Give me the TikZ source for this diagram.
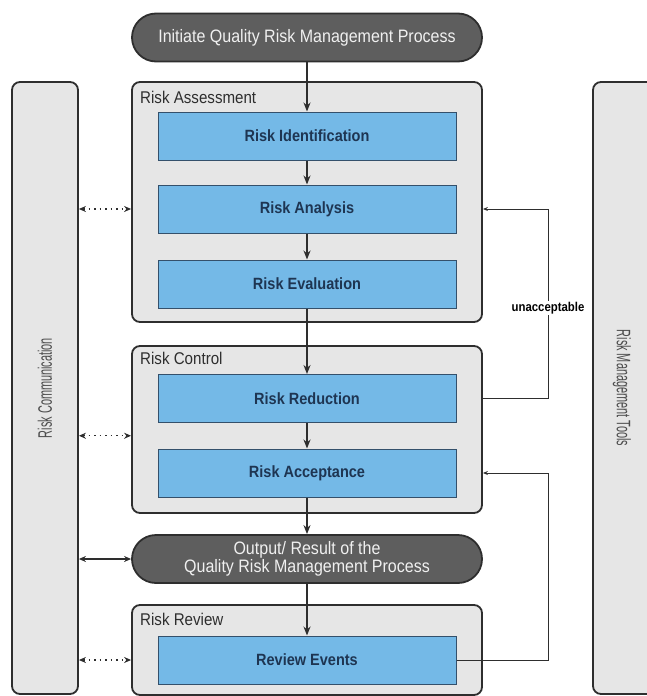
\documentclass[tikz,border=0pt]{standalone}
\usepackage{fontspec}
\setmainfont{Liberation Sans}
\newfontfamily\boxfont[FakeStretch=0.89]{Liberation Sans}
\newfontfamily\sidefont[FakeStretch=0.56]{Liberation Sans}
\usetikzlibrary{arrows.meta,calc}

\definecolor{pillgray}{HTML}{5E5E5E}
\definecolor{panelgray}{HTML}{E6E6E6}
\definecolor{edgegray}{HTML}{2E2E2E}
\definecolor{stepblue}{HTML}{74B9E7}
\definecolor{stepedge}{HTML}{34506B}
\definecolor{stepnavy}{HTML}{1E3552}

\tikzset{
  pill/.style={draw=edgegray, line width=1.8pt, fill=pillgray, rounded corners=24pt,
    minimum width=350pt, minimum height=48pt, text=white!94!black, align=center,
    font=\boxfont\fontsize{18}{16.5}\selectfont},
  panel/.style={draw=edgegray, line width=1.8pt, fill=panelgray, rounded corners=8pt},
  paneltitle/.style={anchor=west, inner sep=0pt, text=edgegray, font=\boxfont\fontsize{17}{18}\selectfont},
  stepbox/.style={draw=stepedge, line width=1pt, fill=stepblue, minimum width=298pt,
    minimum height=48pt, text=stepnavy, font=\boxfont\bfseries\fontsize{16.3}{18}\selectfont},
  sidetext/.style={text=edgegray!85!white, font=\sidefont\fontsize{19.5}{20}\selectfont},
  flow/.style={draw=edgegray, line width=1.8pt, -{Stealth[length=9pt,width=7pt]}},
  talk/.style={draw=edgegray, line width=1.3pt, dash pattern=on 1.5pt off 4pt,
    {Stealth[length=7pt,width=6pt]}-{Stealth[length=7pt,width=6pt]}},
  feedback/.style={draw=edgegray, line width=0.9pt, -{Stealth[length=5pt,width=4pt]}}
}

\begin{document}
\begin{tikzpicture}[x=1pt,y=-1pt]
\useasboundingbox (0,0) rectangle (646,696);

% side columns
\node[panel, minimum width=66pt, minimum height=612pt] (comm) at (45,388) {};
\node[sidetext, rotate=90] at (comm) {Risk Communication};
\node[panel, minimum width=80pt, minimum height=612pt] (tools) at (633,388) {};
\node[sidetext, rotate=-90] at (622,388) {Risk Management Tools};

% the three stages
\node[panel, minimum width=350pt, minimum height=240pt] (assess) at (307,202) {};
\node[paneltitle] at (140,97) {Risk Assessment};
\node[panel, minimum width=350pt, minimum height=167pt] (control) at (307,429.5) {};
\node[paneltitle] at (140,358) {Risk Control};
\node[panel, minimum width=350pt, minimum height=90pt] (review) at (307,650) {};
\node[paneltitle] at (140,619) {Risk Review};

% start and output
\node[pill] (start) at (307,37.5) {Initiate Quality Risk Management Process};
\node[pill] (output) at (307,559) {Output/ Result of the\\Quality Risk Management Process};

% steps
\node[stepbox] (ident) at (307,136) {Risk Identification};
\node[stepbox] (analysis) at (307,209) {Risk Analysis};
\node[stepbox] (eval) at (307,284) {Risk Evaluation};
\node[stepbox] (reduction) at (307,398.5) {Risk Reduction};
\node[stepbox] (acceptance) at (307,473) {Risk Acceptance};
\node[stepbox] (events) at (307,660) {Review Events};

% main flow
\foreach \a/\b in {start/ident, ident/analysis, analysis/eval, eval/reduction,
  reduction/acceptance, acceptance/output, output/events}
  \draw[flow] (\a) -- (\b);

% communication links
\coordinate (mid) at ($(reduction)!0.5!(acceptance)$);
\draw[talk] (comm.east |- analysis) -- (assess.west |- analysis);
\draw[talk] (comm.east |- mid) -- (control.west |- mid);
\draw[talk] (comm.east |- events) -- (review.west |- events);
\draw[flow, {Stealth[length=7pt,width=6pt]}-{Stealth[length=7pt,width=6pt]}, line width=1.3pt]
  (comm.east |- output) -- (output.west);

% feedback loops
\coordinate (back) at (548,0);
\draw[feedback] (control.east |- reduction) -- (back |- reduction)
  -- (back |- analysis) -- (assess.east |- analysis);
\draw[feedback] (events.east) -- (back |- events)
  -- (back |- acceptance) -- (control.east |- acceptance);
\node[fill=white, inner sep=1.5pt, font=\boxfont\bfseries\fontsize{12.8}{14}\selectfont]
  (unacc) at (548,308) {unacceptable};
\end{tikzpicture}
\end{document}
